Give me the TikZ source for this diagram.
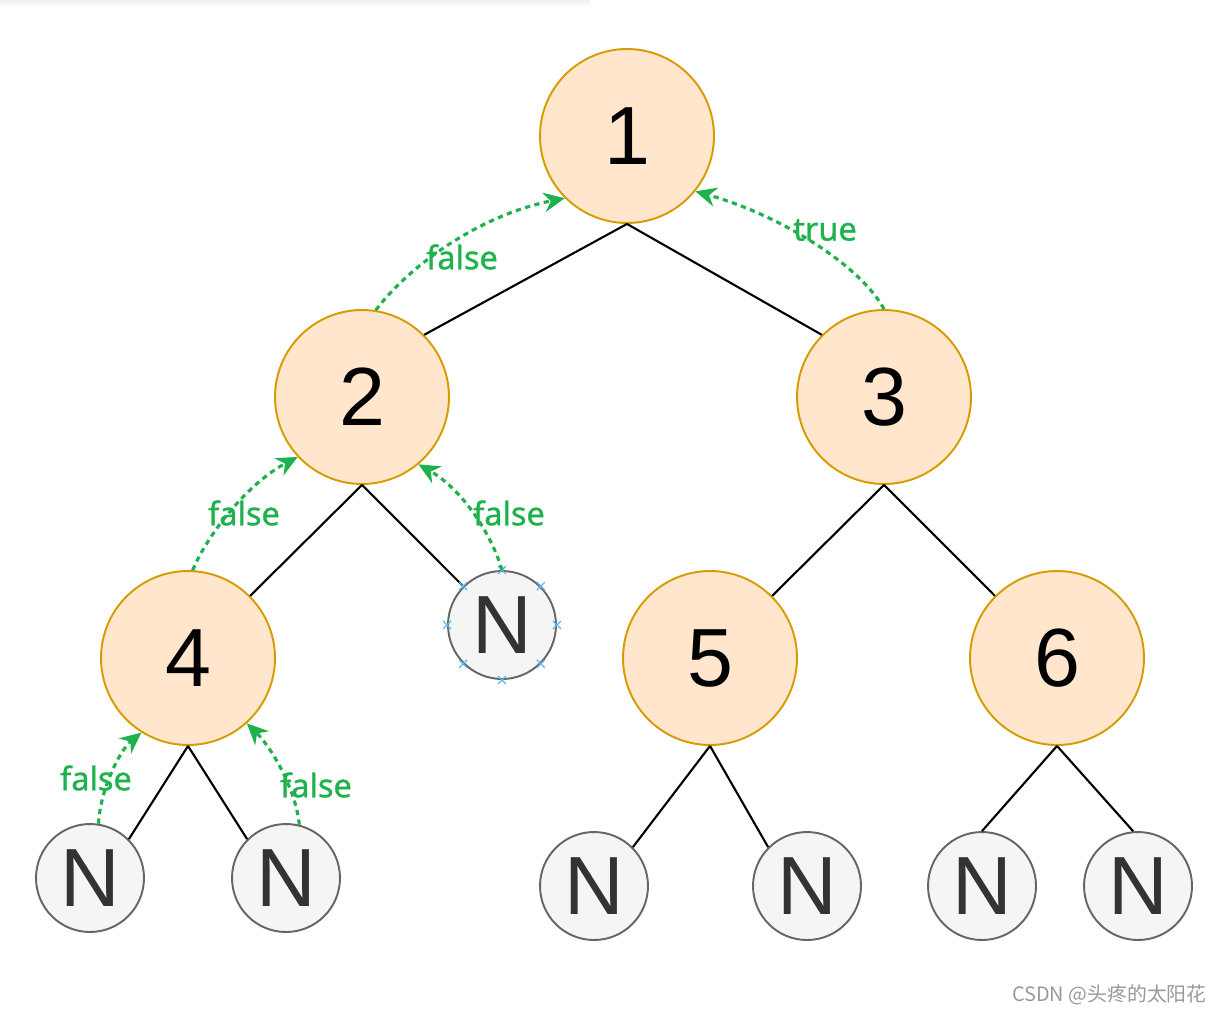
\documentclass[tikz,border=0pt]{standalone}
\usepackage{fontspec}
\setmainfont{Liberation Sans}
\newfontfamily\labfont[FakeBold=0.9]{Noto Sans}
\newfontfamily\cjkfont{Noto Sans CJK SC}
\usetikzlibrary{arrows.meta,calc}
\definecolor{ofill}{HTML}{FFE6CC}
\definecolor{oline}{HTML}{D79B00}
\definecolor{nfill}{HTML}{F5F5F5}
\definecolor{nline}{HTML}{666666}
\definecolor{ntext}{HTML}{333333}
\definecolor{grn}{RGB}{31,177,76}
\definecolor{selblue}{HTML}{5DB8EC}
\tikzset{
  onode/.style={circle, draw=oline, fill=ofill, line width=1.1pt, minimum size=3.48cm, inner sep=0pt, font=\fontsize{47}{47}\selectfont},
  nnode/.style={circle, draw=nline, fill=nfill, line width=1.1pt, minimum size=2.16cm, inner sep=0pt, text=ntext, font=\fontsize{47}{47}\selectfont},
  edge/.style={line width=1.2pt, black},
  garrow/.style={grn, line width=1.8pt, dash pattern=on 3pt off 2.5pt, -{Stealth[length=12pt,width=11pt]}},
  glabel/.style={text=grn, font=\labfont\fontsize{18.5}{18.5}\selectfont, inner sep=0pt},
  selmark/.style={selblue, line width=0.7pt},
}
\begin{document}
\begin{tikzpicture}[x=0.02cm,y=-0.02cm]
\useasboundingbox (0,0) rectangle (1222,1014);
\fill[white] (0,0) rectangle (1222,1014);
\shade[top color=gray!12, bottom color=white] (0,0) rectangle (590,7);

% nodes
\node[onode] (n1) at (627,136) {1};
\node[onode] (n2) at (362,397) {2};
\node[onode] (n3) at (884,397) {3};
\node[onode] (n4) at (188,658) {4};
\node[nnode] (nN) at (502,625) {N};
\node[onode] (n5) at (710,658) {5};
\node[onode] (n6) at (1057,658) {6};
\node[nnode] (l1) at (90,878) {N};
\node[nnode] (l2) at (286,878) {N};
\node[nnode] (l3) at (594,886) {N};
\node[nnode] (l4) at (807,886) {N};
\node[nnode] (l5) at (982,886) {N};
\node[nnode] (l6) at (1138,886) {N};

% edges
\draw[edge] (n1.south) -- (n2.45);
\draw[edge] (n1.south) -- (n3.135);
\draw[edge] (n2.south) -- (n4.45);
\draw[edge] (n2.south) -- (nN.135);
\draw[edge] (n3.south) -- (n5.45);
\draw[edge] (n3.south) -- (n6.135);
\draw[edge] (n4.south) -- (l1.45);
\draw[edge] (n4.south) -- (l2.135);
\draw[edge] (n5.south) -- (l3.45);
\draw[edge] (n5.south) -- (l4.135);
\draw[edge] (n6.south) -- (l5.90);
\draw[edge] (n6.south) -- (l6.95);

% selection marks on the N node
\foreach \a in {0,45,...,315}{
  \draw[selmark] ($(nN.\a)+(-4,-4)$) -- ++(8,8) ($(nN.\a)+(-4,4)$) -- ++(8,-8);
}

% green return arrows
\draw[garrow] (n2.81) .. controls (410,265) and (480,215) .. (n1.225);
\draw[garrow] (n3.90) .. controls (860,265) and (780,215) .. (n1.-39);
\draw[garrow] (n4.87) .. controls (210,530) and (250,482) .. (n2.-137);
\draw[garrow] (nN.90) .. controls (490,530) and (460,488) .. (n2.-50);
\draw[garrow] (l1.81) .. controls (100,790) and (120,750) .. (n4.-122);
\draw[garrow] (l2.76) .. controls (296,790) and (272,748) .. (n4.-48);

\node[glabel] (t1) at (462,257) {false};
\node[glabel] (t2) at (825,230) {true};
\node[glabel] (t3) at (244,513) {false};
\node[glabel] (t4) at (509,513) {false};
\node[glabel] (t5) at (96,778) {false};
\node[glabel] (t6) at (316,785) {false};

% watermark
\node[anchor=east, text=gray!80, font=\cjkfont\fontsize{11.3}{11.3}\selectfont, inner sep=0pt] (wm) at (1207,995) {CSDN @头疼的太阳花};
\end{tikzpicture}
\end{document}
